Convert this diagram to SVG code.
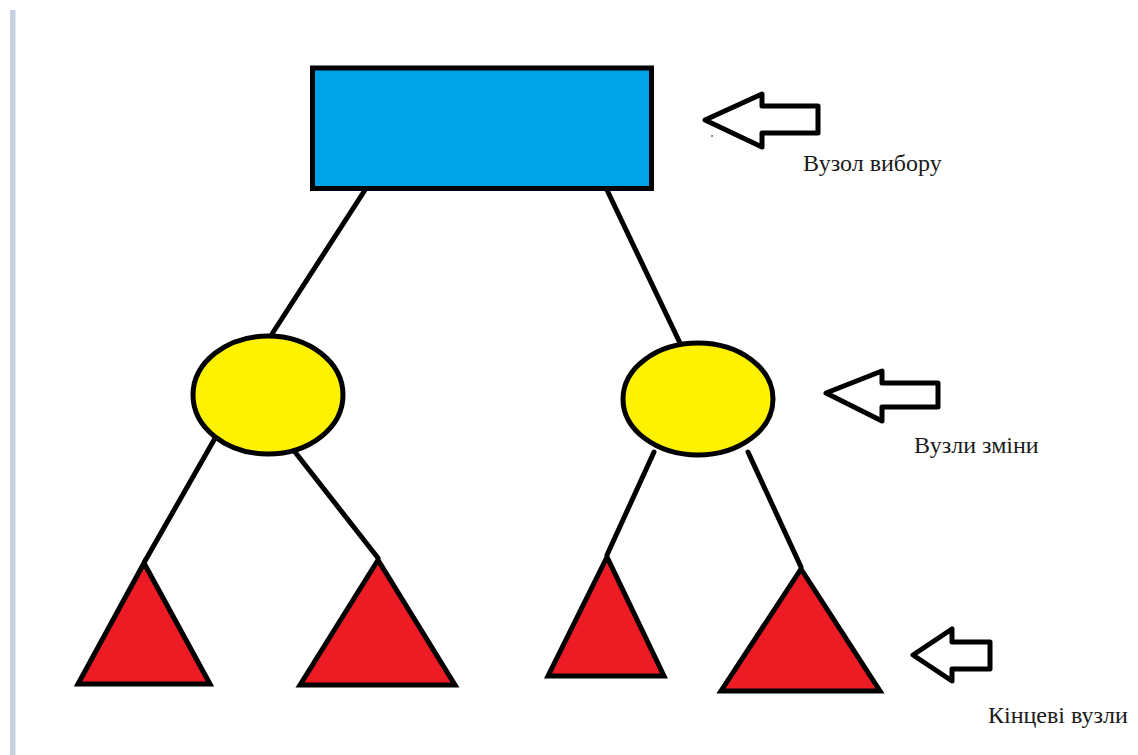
<svg xmlns="http://www.w3.org/2000/svg" width="1138" height="755" viewBox="0 0 1138 755">
  <style>
    .edge { stroke: #000; stroke-width: 5; fill: none; stroke-linecap: round; }
    .shape { stroke: #000; stroke-width: 5; stroke-linejoin: miter; }
    .choice { fill: #00a2e8; }
    .chance { fill: #fff200; }
    .leaf { fill: #ed1c24; }
    .pointer { fill: #fff; stroke: #000; stroke-width: 5; stroke-linejoin: round; }
    .label { font-family: "Liberation Serif", "DejaVu Serif", serif; font-size: 24px; fill: #1a1a1a; }
  </style>

  <rect x="0" y="0" width="1138" height="755" fill="#fff"/>
  <!-- page margin rule -->
  <rect x="10" y="10" width="5.5" height="745" fill="#c7d1e2"/>

  <!-- tree edges -->
  <g id="connectors">
    <line class="edge" x1="365" y1="190" x2="272" y2="334"/>
    <line class="edge" x1="607" y1="190" x2="680" y2="343"/>
    <line class="edge" x1="214" y1="440" x2="145" y2="561"/>
    <line class="edge" x1="295" y1="452" x2="378" y2="558"/>
    <line class="edge" x1="654" y1="452" x2="607" y2="555"/>
    <line class="edge" x1="748" y1="452" x2="801" y2="567"/>
  </g>

  <g id="choice-node">
    <rect class="shape choice" x="312.5" y="68" width="339" height="120.5"/>
  </g>

  <g id="chance-left">
    <ellipse class="shape chance" cx="268" cy="395" rx="75" ry="59"/>
  </g>
  <g id="chance-right">
    <ellipse class="shape chance" cx="698" cy="399" rx="75" ry="56"/>
  </g>

  <g id="leaf-1">
    <polygon class="shape leaf" points="144,563 78,684 210,684"/>
  </g>
  <g id="leaf-2">
    <polygon class="shape leaf" points="378,560 300,685 455,685"/>
  </g>
  <g id="leaf-3">
    <polygon class="shape leaf" points="607,557 548,676 664,676"/>
  </g>
  <g id="leaf-4">
    <polygon class="shape leaf" points="801,569 721,691 880,691"/>
  </g>

  <!-- callout arrows and captions -->
  <g id="callout-choice">
    <polygon class="pointer" points="705,120 762,94 762,106 818,106 818,133 762,133 762,147"/>
    <circle cx="712" cy="136" r="0.8" fill="#000"/>
    <text class="label" x="803" y="171">Вузол вибору</text>
  </g>
  <g id="callout-chance">
    <polygon class="pointer" points="826,393 882,371 882,383 938,383 938,407 882,407 882,421"/>
    <text class="label" x="914" y="453">Вузли зміни</text>
  </g>
  <g id="callout-leaf">
    <polygon class="pointer" points="913,655 952,629 952,642 990,642 990,669 952,669 952,681"/>
    <text class="label" x="988" y="723">Кінцеві вузли</text>
  </g>
</svg>
